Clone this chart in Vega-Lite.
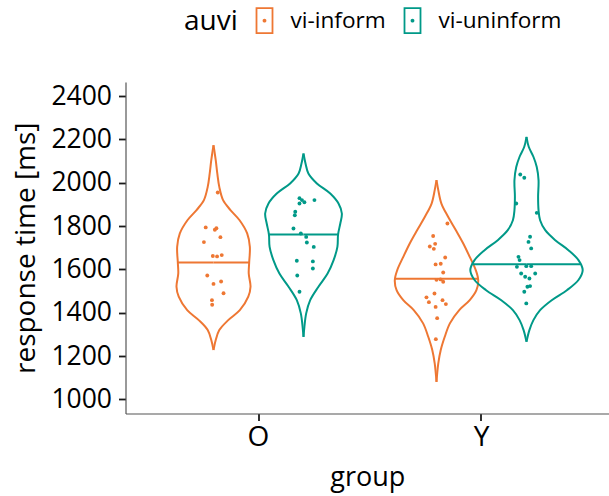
{
  "$schema": "https://vega.github.io/schema/vega-lite/v6.json",
  "width": 483.5,
  "height": 331.5,
  "autosize": "none",
  "padding": {"left": 125.5, "top": 82, "right": 0, "bottom": 82.5},
  "background": "white",
  "config": {
    "view": {"stroke": null},
    "font": "Open Sans",
    "axis": {
      "grid": false,
      "domainColor": "#555555",
      "domainWidth": 1.2,
      "tickColor": "#1a1a1a",
      "tickWidth": 1.8,
      "tickSize": 7,
      "labelColor": "black",
      "titleColor": "black",
      "titleFontWeight": "normal",
      "labelFont": "Open Sans",
      "titleFont": "Open Sans"
    }
  },
  "datasets": {
    "violins": [
      {"group":"O","auvi":"vi-inform","part":"outline","rt":2173,"hw":0},
      {"group":"O","auvi":"vi-inform","part":"outline","rt":2104,"hw":1.0},
      {"group":"O","auvi":"vi-inform","part":"outline","rt":2043,"hw":1.7},
      {"group":"O","auvi":"vi-inform","part":"outline","rt":1981,"hw":2.6},
      {"group":"O","auvi":"vi-inform","part":"outline","rt":1920,"hw":4.3},
      {"group":"O","auvi":"vi-inform","part":"outline","rt":1874,"hw":7.6},
      {"group":"O","auvi":"vi-inform","part":"outline","rt":1827,"hw":11.7},
      {"group":"O","auvi":"vi-inform","part":"outline","rt":1766,"hw":15.1},
      {"group":"O","auvi":"vi-inform","part":"outline","rt":1704,"hw":16.3},
      {"group":"O","auvi":"vi-inform","part":"outline","rt":1632,"hw":16.0},
      {"group":"O","auvi":"vi-inform","part":"outline","rt":1581,"hw":15.8},
      {"group":"O","auvi":"vi-inform","part":"outline","rt":1520,"hw":16.6},
      {"group":"O","auvi":"vi-inform","part":"outline","rt":1474,"hw":15.6},
      {"group":"O","auvi":"vi-inform","part":"outline","rt":1412,"hw":11.8},
      {"group":"O","auvi":"vi-inform","part":"outline","rt":1366,"hw":6.6},
      {"group":"O","auvi":"vi-inform","part":"outline","rt":1320,"hw":2.6},
      {"group":"O","auvi":"vi-inform","part":"outline","rt":1274,"hw":1.0},
      {"group":"O","auvi":"vi-inform","part":"outline","rt":1228,"hw":0},
      {"group":"O","auvi":"vi-inform","part":"median","rt":1632,"hw":0},
      {"group":"O","auvi":"vi-inform","part":"median","rt":1632,"hw":16.0},

      {"group":"O","auvi":"vi-uninform","part":"outline","rt":2135,"hw":0},
      {"group":"O","auvi":"vi-uninform","part":"outline","rt":2089,"hw":0.9},
      {"group":"O","auvi":"vi-uninform","part":"outline","rt":2043,"hw":2.2},
      {"group":"O","auvi":"vi-uninform","part":"outline","rt":1997,"hw":6.0},
      {"group":"O","auvi":"vi-uninform","part":"outline","rt":1950,"hw":12.0},
      {"group":"O","auvi":"vi-uninform","part":"outline","rt":1904,"hw":15.7},
      {"group":"O","auvi":"vi-uninform","part":"outline","rt":1858,"hw":17.2},
      {"group":"O","auvi":"vi-uninform","part":"outline","rt":1812,"hw":16.5},
      {"group":"O","auvi":"vi-uninform","part":"outline","rt":1761,"hw":15.5},
      {"group":"O","auvi":"vi-uninform","part":"outline","rt":1704,"hw":15.2},
      {"group":"O","auvi":"vi-uninform","part":"outline","rt":1643,"hw":13.5},
      {"group":"O","auvi":"vi-uninform","part":"outline","rt":1581,"hw":10.8},
      {"group":"O","auvi":"vi-uninform","part":"outline","rt":1520,"hw":6.7},
      {"group":"O","auvi":"vi-uninform","part":"outline","rt":1458,"hw":3.0},
      {"group":"O","auvi":"vi-uninform","part":"outline","rt":1397,"hw":1.2},
      {"group":"O","auvi":"vi-uninform","part":"outline","rt":1335,"hw":0.4},
      {"group":"O","auvi":"vi-uninform","part":"outline","rt":1289,"hw":0},
      {"group":"O","auvi":"vi-uninform","part":"median","rt":1761,"hw":0},
      {"group":"O","auvi":"vi-uninform","part":"median","rt":1761,"hw":15.5},

      {"group":"Y","auvi":"vi-inform","part":"outline","rt":2012,"hw":0},
      {"group":"Y","auvi":"vi-inform","part":"outline","rt":1966,"hw":0.8},
      {"group":"Y","auvi":"vi-inform","part":"outline","rt":1904,"hw":2.2},
      {"group":"Y","auvi":"vi-inform","part":"outline","rt":1843,"hw":5.2},
      {"group":"Y","auvi":"vi-inform","part":"outline","rt":1781,"hw":8.7},
      {"group":"Y","auvi":"vi-inform","part":"outline","rt":1720,"hw":12.0},
      {"group":"Y","auvi":"vi-inform","part":"outline","rt":1658,"hw":14.9},
      {"group":"Y","auvi":"vi-inform","part":"outline","rt":1597,"hw":17.6},
      {"group":"Y","auvi":"vi-inform","part":"outline","rt":1551,"hw":18.7},
      {"group":"Y","auvi":"vi-inform","part":"outline","rt":1504,"hw":17.9},
      {"group":"Y","auvi":"vi-inform","part":"outline","rt":1458,"hw":14.9},
      {"group":"Y","auvi":"vi-inform","part":"outline","rt":1412,"hw":10.2},
      {"group":"Y","auvi":"vi-inform","part":"outline","rt":1351,"hw":6.0},
      {"group":"Y","auvi":"vi-inform","part":"outline","rt":1289,"hw":3.7},
      {"group":"Y","auvi":"vi-inform","part":"outline","rt":1228,"hw":1.9},
      {"group":"Y","auvi":"vi-inform","part":"outline","rt":1166,"hw":0.8},
      {"group":"Y","auvi":"vi-inform","part":"outline","rt":1081,"hw":0},
      {"group":"Y","auvi":"vi-inform","part":"median","rt":1557,"hw":0},
      {"group":"Y","auvi":"vi-inform","part":"median","rt":1557,"hw":18.6},

      {"group":"Y","auvi":"vi-uninform","part":"outline","rt":2212,"hw":0},
      {"group":"Y","auvi":"vi-uninform","part":"outline","rt":2166,"hw":1.0},
      {"group":"Y","auvi":"vi-uninform","part":"outline","rt":2120,"hw":3.1},
      {"group":"Y","auvi":"vi-uninform","part":"outline","rt":2073,"hw":4.6},
      {"group":"Y","auvi":"vi-uninform","part":"outline","rt":2012,"hw":5.4},
      {"group":"Y","auvi":"vi-uninform","part":"outline","rt":1935,"hw":5.2},
      {"group":"Y","auvi":"vi-uninform","part":"outline","rt":1874,"hw":5.4},
      {"group":"Y","auvi":"vi-uninform","part":"outline","rt":1827,"hw":6.1},
      {"group":"Y","auvi":"vi-uninform","part":"outline","rt":1781,"hw":8.4},
      {"group":"Y","auvi":"vi-uninform","part":"outline","rt":1735,"hw":12.9},
      {"group":"Y","auvi":"vi-uninform","part":"outline","rt":1689,"hw":18.8},
      {"group":"Y","auvi":"vi-uninform","part":"outline","rt":1643,"hw":23.3},
      {"group":"Y","auvi":"vi-uninform","part":"outline","rt":1597,"hw":25.2},
      {"group":"Y","auvi":"vi-uninform","part":"outline","rt":1551,"hw":23.3},
      {"group":"Y","auvi":"vi-uninform","part":"outline","rt":1504,"hw":18.1},
      {"group":"Y","auvi":"vi-uninform","part":"outline","rt":1458,"hw":11.3},
      {"group":"Y","auvi":"vi-uninform","part":"outline","rt":1412,"hw":6.1},
      {"group":"Y","auvi":"vi-uninform","part":"outline","rt":1366,"hw":3.1},
      {"group":"Y","auvi":"vi-uninform","part":"outline","rt":1320,"hw":1.3},
      {"group":"Y","auvi":"vi-uninform","part":"outline","rt":1266,"hw":0},
      {"group":"Y","auvi":"vi-uninform","part":"median","rt":1624,"hw":0},
      {"group":"Y","auvi":"vi-uninform","part":"median","rt":1624,"hw":24.1}
    ],
    "points": [
      {"group":"O","auvi":"vi-inform","rt":1955,"jitter":1.9},
      {"group":"O","auvi":"vi-inform","rt":1794,"jitter":-3.5},
      {"group":"O","auvi":"vi-inform","rt":1783,"jitter":0.6},
      {"group":"O","auvi":"vi-inform","rt":1790,"jitter":1.3},
      {"group":"O","auvi":"vi-inform","rt":1749,"jitter":3.1},
      {"group":"O","auvi":"vi-inform","rt":1726,"jitter":-4.3},
      {"group":"O","auvi":"vi-inform","rt":1662,"jitter":-0.3},
      {"group":"O","auvi":"vi-inform","rt":1660,"jitter":1.6},
      {"group":"O","auvi":"vi-inform","rt":1666,"jitter":3.7},
      {"group":"O","auvi":"vi-inform","rt":1572,"jitter":-2.8},
      {"group":"O","auvi":"vi-inform","rt":1533,"jitter":0.0},
      {"group":"O","auvi":"vi-inform","rt":1544,"jitter":3.4},
      {"group":"O","auvi":"vi-inform","rt":1490,"jitter":4.5},
      {"group":"O","auvi":"vi-inform","rt":1458,"jitter":-0.7},
      {"group":"O","auvi":"vi-inform","rt":1437,"jitter":-0.6},

      {"group":"O","auvi":"vi-uninform","rt":1929,"jitter":-1.8},
      {"group":"O","auvi":"vi-uninform","rt":1920,"jitter":-0.7},
      {"group":"O","auvi":"vi-uninform","rt":1910,"jitter":0.4},
      {"group":"O","auvi":"vi-uninform","rt":1904,"jitter":-1.8},
      {"group":"O","auvi":"vi-uninform","rt":1920,"jitter":4.9},
      {"group":"O","auvi":"vi-uninform","rt":1866,"jitter":-3.7},
      {"group":"O","auvi":"vi-uninform","rt":1850,"jitter":-3.9},
      {"group":"O","auvi":"vi-uninform","rt":1789,"jitter":-4.5},
      {"group":"O","auvi":"vi-uninform","rt":1766,"jitter":-1.2},
      {"group":"O","auvi":"vi-uninform","rt":1750,"jitter":1.2},
      {"group":"O","auvi":"vi-uninform","rt":1724,"jitter":1.5},
      {"group":"O","auvi":"vi-uninform","rt":1704,"jitter":4.6},
      {"group":"O","auvi":"vi-uninform","rt":1640,"jitter":-3.0},
      {"group":"O","auvi":"vi-uninform","rt":1637,"jitter":4.2},
      {"group":"O","auvi":"vi-uninform","rt":1604,"jitter":4.2},
      {"group":"O","auvi":"vi-uninform","rt":1572,"jitter":-2.8},
      {"group":"O","auvi":"vi-uninform","rt":1497,"jitter":-1.8},

      {"group":"Y","auvi":"vi-inform","rt":1812,"jitter":4.9},
      {"group":"Y","auvi":"vi-inform","rt":1754,"jitter":-1.5},
      {"group":"Y","auvi":"vi-inform","rt":1718,"jitter":-0.6},
      {"group":"Y","auvi":"vi-inform","rt":1706,"jitter":-3.0},
      {"group":"Y","auvi":"vi-inform","rt":1695,"jitter":-1.2},
      {"group":"Y","auvi":"vi-inform","rt":1655,"jitter":3.9},
      {"group":"Y","auvi":"vi-inform","rt":1623,"jitter":-0.4},
      {"group":"Y","auvi":"vi-inform","rt":1626,"jitter":1.9},
      {"group":"Y","auvi":"vi-inform","rt":1586,"jitter":3.0},
      {"group":"Y","auvi":"vi-inform","rt":1552,"jitter":0.0},
      {"group":"Y","auvi":"vi-inform","rt":1554,"jitter":1.8},
      {"group":"Y","auvi":"vi-inform","rt":1543,"jitter":3.0},
      {"group":"Y","auvi":"vi-inform","rt":1489,"jitter":-0.9},
      {"group":"Y","auvi":"vi-inform","rt":1471,"jitter":-4.5},
      {"group":"Y","auvi":"vi-inform","rt":1449,"jitter":-3.4},
      {"group":"Y","auvi":"vi-inform","rt":1458,"jitter":2.7},
      {"group":"Y","auvi":"vi-inform","rt":1440,"jitter":4.2},
      {"group":"Y","auvi":"vi-inform","rt":1427,"jitter":-0.4},
      {"group":"Y","auvi":"vi-inform","rt":1375,"jitter":0.3},
      {"group":"Y","auvi":"vi-inform","rt":1278,"jitter":-0.3},

      {"group":"Y","auvi":"vi-uninform","rt":2038,"jitter":-2.8},
      {"group":"Y","auvi":"vi-uninform","rt":2023,"jitter":-1.0},
      {"group":"Y","auvi":"vi-uninform","rt":1904,"jitter":-4.6},
      {"group":"Y","auvi":"vi-uninform","rt":1861,"jitter":4.6},
      {"group":"Y","auvi":"vi-uninform","rt":1751,"jitter":1.6},
      {"group":"Y","auvi":"vi-uninform","rt":1727,"jitter":0.9},
      {"group":"Y","auvi":"vi-uninform","rt":1697,"jitter":2.1},
      {"group":"Y","auvi":"vi-uninform","rt":1658,"jitter":-3.6},
      {"group":"Y","auvi":"vi-uninform","rt":1643,"jitter":-3.1},
      {"group":"Y","auvi":"vi-uninform","rt":1612,"jitter":-4.3},
      {"group":"Y","auvi":"vi-uninform","rt":1615,"jitter":-0.1},
      {"group":"Y","auvi":"vi-uninform","rt":1615,"jitter":2.1},
      {"group":"Y","auvi":"vi-uninform","rt":1581,"jitter":-2.4},
      {"group":"Y","auvi":"vi-uninform","rt":1581,"jitter":3.9},
      {"group":"Y","auvi":"vi-uninform","rt":1566,"jitter":-0.6},
      {"group":"Y","auvi":"vi-uninform","rt":1558,"jitter":1.3},
      {"group":"Y","auvi":"vi-uninform","rt":1520,"jitter":0.4},
      {"group":"Y","auvi":"vi-uninform","rt":1523,"jitter":1.6},
      {"group":"Y","auvi":"vi-uninform","rt":1497,"jitter":-1.0},
      {"group":"Y","auvi":"vi-uninform","rt":1443,"jitter":-0.1}
    ]
  },
  "encoding": {
    "x": {
      "field": "group", "type": "nominal", "title": "group",
      "scale": {"domain": ["O", "Y"], "range": [0, 483.5], "paddingInner": 0, "paddingOuter": 0.0841, "align": 0.5733},
      "axis": {"labelAngle": 0, "labelFontSize": 28, "labelPadding": 3, "titleFontSize": 27, "titlePadding": 13}
    },
    "y": {
      "field": "rt", "type": "quantitative", "title": "response time [ms]",
      "scale": {"domain": [935, 2465], "nice": false, "zero": false},
      "axis": {"values": [1000, 1200, 1400, 1600, 1800, 2000, 2200, 2400], "format": "d", "labelFontSize": 26.5, "labelPadding": 7, "titleFontSize": 28, "titlePadding": 10}
    },
    "color": {
      "field": "auvi", "type": "nominal",
      "scale": {"domain": ["vi-inform", "vi-uninform"], "range": ["#EE7733", "#009988"]},
      "legend": {
        "orient": "none", "legendX": 58.5, "legendY": -75, "direction": "horizontal",
        "title": "auvi", "titleOrient": "left", "titleFontSize": 28, "titleFontWeight": "normal", "titleColor": "black", "titlePadding": 13,
        "labelFontSize": 22.6, "labelColor": "black", "labelOffset": 12.5, "columnPadding": 13,
        "symbolType": "M-0.64,-1H0.64V1H-0.64Z M-0.08,0a0.08,0.08 0 1,0 0.16,0a0.08,0.08 0 1,0 -0.16,0",
        "symbolSize": 625, "symbolStrokeWidth": 1.8, "symbolFillColor": "transparent",
        "encode": {"symbols": {
          "enter": {"fill": {"value": "transparent"}, "fillOpacity": {"value": 0}},
          "update": {"fill": {"value": "transparent"}, "fillOpacity": {"value": 0}, "stroke": {"scale": "color", "field": "value"}, "strokeWidth": {"value": 1.8}}
        }}
      }
    }
  },
  "layer": [
    {
      "data": {"name": "violins"},
      "transform": [{"filter": "datum.auvi === 'vi-inform'"}],
      "mark": {"type": "line", "strokeWidth": 2, "interpolate": "catmull-rom"},
      "encoding": {
        "xOffset": {"field": "hw", "type": "quantitative", "scale": {"domain": [-50, 50], "range": [-45, 178]}},
        "detail": [{"field": "group"}, {"field": "part"}],
        "order": {"value": null}
      }
    },
    {
      "data": {"name": "violins"},
      "transform": [{"filter": "datum.auvi === 'vi-inform'"}],
      "mark": {"type": "line", "strokeWidth": 2, "interpolate": "catmull-rom"},
      "encoding": {
        "xOffset": {"field": "hw", "type": "quantitative", "scale": {"domain": [-50, 50], "range": [178, -45]}},
        "detail": [{"field": "group"}, {"field": "part"}],
        "order": {"value": null}
      }
    },
    {
      "data": {"name": "violins"},
      "transform": [{"filter": "datum.auvi === 'vi-uninform'"}],
      "mark": {"type": "line", "strokeWidth": 2, "interpolate": "catmull-rom"},
      "encoding": {
        "xOffset": {"field": "hw", "type": "quantitative", "scale": {"domain": [-50, 50], "range": [45, 268]}},
        "detail": [{"field": "group"}, {"field": "part"}],
        "order": {"value": null}
      }
    },
    {
      "data": {"name": "violins"},
      "transform": [{"filter": "datum.auvi === 'vi-uninform'"}],
      "mark": {"type": "line", "strokeWidth": 2, "interpolate": "catmull-rom"},
      "encoding": {
        "xOffset": {"field": "hw", "type": "quantitative", "scale": {"domain": [-50, 50], "range": [268, 45]}},
        "detail": [{"field": "group"}, {"field": "part"}],
        "order": {"value": null}
      }
    },
    {
      "data": {"name": "points"},
      "transform": [{"filter": "datum.auvi === 'vi-inform'"}],
      "mark": {"type": "circle", "size": 15, "opacity": 1},
      "encoding": {
        "xOffset": {"field": "jitter", "type": "quantitative", "scale": {"domain": [-50, 50], "range": [-45, 178]}}
      }
    },
    {
      "data": {"name": "points"},
      "transform": [{"filter": "datum.auvi === 'vi-uninform'"}],
      "mark": {"type": "circle", "size": 15, "opacity": 1},
      "encoding": {
        "xOffset": {"field": "jitter", "type": "quantitative", "scale": {"domain": [-50, 50], "range": [45, 268]}}
      }
    }
  ],
  "resolve": {"scale": {"xOffset": "independent"}}
}
